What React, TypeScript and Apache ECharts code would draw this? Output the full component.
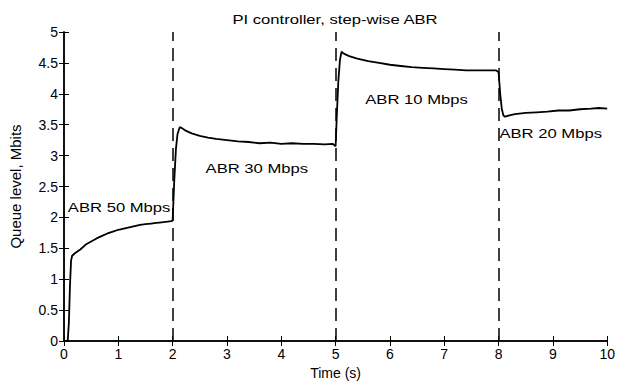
import React, { useEffect, useRef } from "react";
import * as echarts from "echarts";

const timeS = [
  0, 0.05, 0.07, 0.09, 0.11, 0.13, 0.15, 0.2, 0.3, 0.4, 0.5, 0.6, 0.7, 0.8, 0.9, 1.0, 1.1, 1.2, 1.3, 1.4,
  1.5, 1.6, 1.7, 1.8, 1.9, 1.98, 2.0, 2.03, 2.06, 2.09, 2.13, 2.18, 2.25, 2.35, 2.5, 2.65, 2.8, 3.0,
  3.2, 3.4, 3.6, 3.8, 4.0, 4.2, 4.4, 4.6, 4.8, 4.95, 5.0, 5.02, 5.05, 5.08, 5.11, 5.15, 5.25, 5.4,
  5.6, 5.8, 6.0, 6.2, 6.4, 6.6, 6.8, 7.0, 7.2, 7.4, 7.6, 7.8, 7.95, 8.0, 8.03, 8.06, 8.09, 8.12,
  8.2, 8.3, 8.5, 8.7, 8.9, 9.1, 9.3, 9.5, 9.7, 9.85, 10.0,
];
const queueMbits = [
  0, 0, 0.02, 0.3, 0.9, 1.3, 1.38, 1.42, 1.48, 1.56, 1.61, 1.66, 1.7, 1.74, 1.77, 1.8, 1.82, 1.84, 1.86, 1.88,
  1.89, 1.9, 1.91, 1.92, 1.93, 1.94, 1.95, 2.6, 3.1, 3.35, 3.46, 3.44, 3.4, 3.36, 3.32, 3.29, 3.27, 3.25,
  3.23, 3.22, 3.2, 3.21, 3.19, 3.2, 3.19, 3.19, 3.18, 3.19, 3.15, 3.6, 4.2, 4.55, 4.68, 4.65, 4.61, 4.57,
  4.53, 4.5, 4.47, 4.45, 4.43, 4.42, 4.41, 4.4, 4.39, 4.38, 4.38, 4.38, 4.38, 4.35, 4.0, 3.75, 3.65, 3.63,
  3.65, 3.67, 3.69, 3.7, 3.71, 3.73, 3.73, 3.75, 3.76, 3.77, 3.76,
];

const switchTimes = [2, 5, 8];
const annotationTexts = ["ABR 50 Mbps", "ABR 30 Mbps", "ABR 10 Mbps", "ABR 20 Mbps"];
const annotationX = [1.015, 3.55, 6.49, 8.96];
const annotationY = [2.17, 2.795, 3.92, 3.37];

const xTicks = { min: 0, max: 10, interval: 1 };
const yTicks = { min: 0, max: 5, interval: 0.5 };

const FONT = "Liberation Sans, Arial, sans-serif";
const STRETCH = 1.28;

export default function App() {
  const ref = useRef<HTMLDivElement>(null);
  useEffect(() => {
    if (!ref.current) return;
    const chart = echarts.init(ref.current, undefined, { renderer: "svg" });
    const axisLine = { show: true, lineStyle: { color: "#000", width: 1.5 } };
    const tick = { show: true, inside: true, length: 5, lineStyle: { color: "#000", width: 1 } };
    chart.setOption({
      animation: false,
      backgroundColor: "#fff",
      graphic: [
        {
          type: "text",
          x: 335,
          y: 19,
          scaleX: STRETCH,
          style: {
            text: "PI controller, step-wise ABR",
            align: "center",
            verticalAlign: "middle",
            fontFamily: FONT,
            fontSize: 13,
            fill: "#000",
          },
        },
      ],
      grid: { left: 62, right: 9, top: 32, bottom: 42 },
      xAxis: [
        {
          type: "value",
          ...xTicks,
          position: "bottom",
          name: "Time (s)",
          nameLocation: "middle",
          nameGap: 25,
          nameTextStyle: { fontFamily: FONT, fontSize: 14, color: "#000" },
          axisLine,
          axisTick: tick,
          splitLine: { show: false },
          axisLabel: { fontFamily: FONT, fontSize: 14, color: "#000", margin: 6 },
        },
        {
          type: "value",
          ...xTicks,
          position: "top",
          axisLine,
          axisTick: tick,
          splitLine: { show: false },
          axisLabel: { show: false },
        },
      ],
      yAxis: [
        {
          type: "value",
          ...yTicks,
          position: "left",
          name: "Queue level, Mbits",
          nameLocation: "middle",
          nameGap: 41,
          nameTextStyle: { fontFamily: FONT, fontSize: 15, color: "#000" },
          axisLine,
          axisTick: tick,
          splitLine: { show: false },
          axisLabel: { fontFamily: FONT, fontSize: 14, color: "#000", margin: 6 },
        },
        {
          type: "value",
          ...yTicks,
          position: "right",
          axisLine,
          axisTick: tick,
          splitLine: { show: false },
          axisLabel: { show: false },
        },
      ],
      series: [
        {
          type: "line",
          data: timeS.map((t, i) => [t, queueMbits[i]]),
          showSymbol: false,
          symbol: "none",
          lineStyle: { color: "#000", width: 1.8 },
          z: 3,
          markLine: {
            silent: true,
            symbol: "none",
            label: { show: false },
            lineStyle: { color: "#000", width: 1.5, type: [13, 7] },
            data: switchTimes.map((t) => ({ xAxis: t })),
          },
        },
        {
          type: "custom",
          coordinateSystem: "cartesian2d",
          silent: true,
          data: annotationX.map((x, i) => [x, annotationY[i], i]),
          renderItem: (_params: any, api: any) => {
            const p = api.coord([api.value(0), api.value(1)]);
            const idx = api.value(2);
            return {
              type: "text",
              x: p[0],
              y: p[1],
              scaleX: STRETCH,
              style: {
                text: annotationTexts[idx],
                align: "center",
                verticalAlign: "middle",
                fontFamily: FONT,
                fontSize: 13,
                fill: "#000",
              },
            };
          },
        },
      ],
    });
    return () => chart.dispose();
  }, []);
  return <div ref={ref} style={{ width: 618, height: 385, position: "absolute", left: 0, top: 0 }} />;
}
